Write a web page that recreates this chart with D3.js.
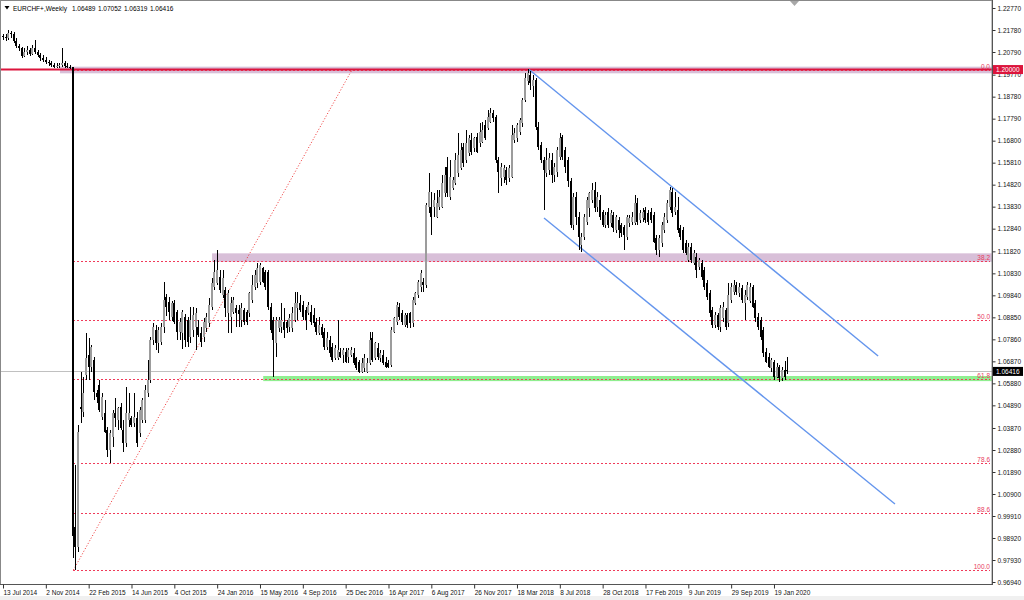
<!DOCTYPE html>
<html><head><meta charset="utf-8">
<script src="https://cdn.jsdelivr.net/npm/d3@7"></script>
<style>
body{margin:0;background:#fff}
svg{display:block}
text{font-family:"Liberation Sans",Arial,sans-serif}
</style>
</head><body>
<svg id="chart" width="1024" height="600"></svg>
<script>
// ---------------- DATA ----------------
const symbolTitle = "EURCHF+,Weekly";
const headerValues = ["1.06489", "1.07052", "1.06319", "1.06416"];
const firstBarDate = "13 Jul 2014";
const xTickLabels = ["13 Jul 2014","2 Nov 2014","22 Feb 2015","14 Jun 2015","4 Oct 2015","24 Jan 2016",
  "15 May 2016","4 Sep 2016","25 Dec 2016","16 Apr 2017","6 Aug 2017","26 Nov 2017","18 Mar 2018",
  "8 Jul 2018","28 Oct 2018","17 Feb 2019","9 Jun 2019","29 Sep 2019","19 Jan 2020"];
const xTickEveryBars = 16;
const yTickValues = [1.22770,1.21780,1.20790,1.19770,1.18780,1.17790,1.16800,1.15810,1.14820,1.13830,
  1.12840,1.11820,1.10830,1.09840,1.08850,1.07860,1.06870,1.05880,1.04890,1.03870,1.02880,1.01890,
  1.00900,0.99910,0.98920,0.97930,0.96940];

const opens = [
1.2150,1.2148,1.2140,1.2165,1.2158,1.2130,1.2105,1.2095,1.2060,1.2080,
1.2088,1.2070,1.2095,1.2080,1.2065,1.2052,1.2045,1.2035,1.2028,1.2020,
1.2012,1.2018,1.2022,1.2030,1.2015,1.2012,1.2010,0.9943,0.9853,1.0483,
1.0461,1.0626,1.0715,1.0663,1.0693,1.0543,1.0581,1.0438,1.0453,1.0378,
1.0288,1.0348,1.0453,1.0423,1.0483,1.0378,1.0318,1.0423,1.0430,1.0408,
1.0430,1.0363,1.0423,1.0423,1.0543,1.0603,1.0783,1.0828,1.0768,1.0775,
1.0843,1.0978,1.0955,1.0888,1.0948,1.0910,1.0820,1.0813,1.0888,1.0873,
1.0798,1.0828,1.0843,1.0843,1.0813,1.0798,1.0836,1.0858,1.0933,1.1023,
1.1038,1.1068,1.0985,1.1008,1.0903,1.0888,1.0910,1.0925,1.0920,1.0873,
1.0918,1.0910,1.0903,1.0963,1.1023,1.1038,1.1045,1.1105,1.1090,1.1090,
1.0933,1.0873,1.0768,1.0836,1.0843,1.0866,1.0866,1.0843,1.0836,1.0873,
1.0925,1.0948,1.0940,1.0918,1.0903,1.0910,1.0895,1.0866,1.0813,1.0843,
1.0820,1.0753,1.0783,1.0753,1.0700,1.0700,1.0730,1.0715,1.0730,1.0708,
1.0715,1.0723,1.0700,1.0685,1.0640,1.0655,1.0641,1.0678,1.0790,1.0700,
1.0745,1.0700,1.0715,1.0685,1.0678,1.0670,1.0820,1.0866,1.0933,1.0903,
1.0851,1.0896,1.0903,1.0858,1.0948,1.0985,1.1023,1.1045,1.1030,1.1383,
1.1383,1.1383,1.1338,1.1383,1.1383,1.1443,1.1563,1.1428,1.1466,1.1488,
1.1533,1.1555,1.1653,1.1593,1.1623,1.1683,1.1645,1.1698,1.1668,1.1675,
1.1750,1.1735,1.1765,1.1803,1.1788,1.1593,1.1511,1.1518,1.1548,1.1511,
1.1518,1.1683,1.1690,1.1720,1.1758,1.1863,1.1950,1.1975,1.1925,1.1953,
1.1743,1.1660,1.1593,1.1533,1.1548,1.1593,1.1525,1.1540,1.1608,1.1698,
1.1638,1.1593,1.1500,1.1300,1.1428,1.1338,1.1210,1.1248,1.1316,1.1376,
1.1413,1.1458,1.1383,1.1413,1.1360,1.1300,1.1360,1.1308,1.1345,1.1278,
1.1323,1.1300,1.1293,1.1248,1.1308,1.1316,1.1308,1.1398,1.1323,1.1330,
1.1368,1.1353,1.1360,1.1345,1.1240,1.1188,1.1218,1.1278,1.1323,1.1383,
1.1450,1.1360,1.1368,1.1285,1.1278,1.1218,1.1143,1.1203,1.1128,1.1158,
1.1113,1.1128,1.1098,1.1038,1.0993,1.0918,1.0851,1.0895,1.0843,1.0880,
1.0918,1.0858,1.0963,1.1000,1.1030,1.0993,1.1015,1.0948,1.0978,1.0960,
1.1023,1.0948,1.0888,1.0873,1.0828,1.0730,1.0708,1.0655,1.0685,1.0618,
1.0660,1.0610,1.0648,1.06489];

const highs = [
1.2162,1.2158,1.2178,1.2175,1.2170,1.2140,1.2115,1.2100,1.2095,1.2105,
1.2095,1.2110,1.2133,1.2090,1.2075,1.2065,1.2055,1.2045,1.2040,1.2030,
1.2028,1.2030,1.2097,1.2040,1.2028,1.2020,1.2013,1.0220,1.0400,1.0640,
1.0618,1.0813,1.0790,1.0760,1.0708,1.0560,1.0603,1.0543,1.0513,1.0393,
1.0380,1.0468,1.0520,1.0483,1.0498,1.0423,1.0573,1.0543,1.0440,1.0543,
1.0460,1.0483,1.0520,1.0580,1.0693,1.0798,1.0860,1.0850,1.0843,1.0860,
1.1045,1.0990,1.0978,1.0960,1.0965,1.0918,1.0880,1.0918,1.0900,1.0888,
1.0933,1.0933,1.0925,1.0873,1.0843,1.0880,1.0903,1.0970,1.1060,1.1143,
1.1188,1.1098,1.1098,1.1023,1.1008,1.0978,1.0975,1.0940,1.0940,1.0948,
1.0925,1.0920,1.1000,1.1075,1.1098,1.1128,1.1128,1.1113,1.1098,1.1098,
1.0948,1.0888,1.0888,1.0888,1.0948,1.0925,1.0873,1.0900,1.0933,1.1000,
1.1000,1.0985,1.0960,1.0933,1.0955,1.0940,1.0925,1.0880,1.0888,1.0855,
1.0835,1.0820,1.0800,1.0768,1.0760,1.0873,1.0745,1.0745,1.0745,1.0745,
1.0753,1.0745,1.0708,1.0693,1.0700,1.0720,1.0700,1.0820,1.0820,1.0776,
1.0768,1.0738,1.0738,1.0708,1.0693,1.0843,1.0888,1.0955,1.0948,1.0918,
1.0903,1.0903,1.0910,1.0975,1.1000,1.1053,1.1098,1.1060,1.1398,1.1533,
1.1450,1.1443,1.1458,1.1458,1.1525,1.1560,1.1608,1.1593,1.1518,1.1623,
1.1713,1.1668,1.1668,1.1728,1.1705,1.1713,1.1698,1.1713,1.1758,1.1765,
1.1773,1.1818,1.1826,1.1818,1.1795,1.1608,1.1578,1.1570,1.1563,1.1570,
1.1750,1.1735,1.1758,1.1780,1.1870,1.1983,1.2003,1.1995,1.1975,1.1960,
1.1765,1.1675,1.1608,1.1645,1.1623,1.1623,1.1578,1.1653,1.1713,1.1705,
1.1653,1.1608,1.1510,1.1443,1.1450,1.1358,1.1263,1.1350,1.1428,1.1450,
1.1488,1.1495,1.1450,1.1435,1.1370,1.1360,1.1376,1.1368,1.1360,1.1345,
1.1338,1.1308,1.1300,1.1345,1.1345,1.1360,1.1435,1.1420,1.1368,1.1376,
1.1383,1.1368,1.1376,1.1360,1.1255,1.1255,1.1316,1.1353,1.1413,1.1473,
1.1465,1.1450,1.1428,1.1300,1.1293,1.1233,1.1218,1.1218,1.1188,1.1173,
1.1150,1.1143,1.1113,1.1053,1.1008,1.0933,1.0910,1.0903,1.0940,1.0955,
1.0925,1.1038,1.1038,1.1053,1.1045,1.1038,1.1030,1.1008,1.1045,1.1038,
1.1030,1.0963,1.0903,1.0888,1.0843,1.0745,1.0723,1.0700,1.0693,1.0678,
1.0670,1.0660,1.0690,1.07052];

const lows = [
1.2135,1.2128,1.2135,1.2140,1.2120,1.2095,1.2085,1.2052,1.2055,1.2065,
1.2060,1.2065,1.2070,1.2055,1.2040,1.2035,1.2025,1.2018,1.2010,1.2008,
1.2005,1.2008,1.2010,1.2008,1.2005,1.2003,0.9800,0.9748,0.9830,1.0408,
1.0438,1.0603,1.0603,1.0640,1.0513,1.0500,1.0460,1.0423,1.0363,1.0258,
1.0228,1.0303,1.0393,1.0378,1.0378,1.0281,1.0303,1.0393,1.0390,1.0393,
1.0303,1.0348,1.0408,1.0408,1.0528,1.0588,1.0760,1.0738,1.0723,1.0760,
1.0813,1.0890,1.0873,1.0870,1.0855,1.0783,1.0783,1.0743,1.0753,1.0753,
1.0768,1.0798,1.0738,1.0798,1.0753,1.0776,1.0820,1.0843,1.0918,1.1010,
1.1030,1.0995,1.0970,1.0888,1.0813,1.0813,1.0900,1.0843,1.0843,1.0843,
1.0851,1.0850,1.0888,1.0948,1.1008,1.1015,1.1030,1.1038,1.1008,1.0918,
1.0813,1.0618,1.0708,1.0820,1.0813,1.0790,1.0813,1.0820,1.0820,1.0866,
1.0873,1.0910,1.0873,1.0828,1.0895,1.0851,1.0843,1.0806,1.0806,1.0790,
1.0738,1.0738,1.0708,1.0685,1.0693,1.0693,1.0700,1.0678,1.0678,1.0678,
1.0708,1.0670,1.0648,1.0633,1.0633,1.0640,1.0633,1.0670,1.0685,1.0693,
1.0693,1.0685,1.0670,1.0655,1.0655,1.0663,1.0813,1.0851,1.0873,1.0851,
1.0843,1.0836,1.0836,1.0843,1.0940,1.0970,1.1000,1.1000,1.1015,1.1353,
1.1256,1.1338,1.1330,1.1368,1.1376,1.1428,1.1428,1.1413,1.1458,1.1480,
1.1518,1.1548,1.1563,1.1578,1.1610,1.1615,1.1630,1.1623,1.1653,1.1668,
1.1683,1.1728,1.1758,1.1765,1.1578,1.1443,1.1478,1.1488,1.1480,1.1496,
1.1510,1.1668,1.1675,1.1705,1.1743,1.1855,1.1930,1.1910,1.1878,1.1728,
1.1638,1.1578,1.1368,1.1518,1.1525,1.1488,1.1495,1.1518,1.1593,1.1593,
1.1533,1.1473,1.1285,1.1280,1.1300,1.1188,1.1180,1.1233,1.1300,1.1338,
1.1398,1.1360,1.1360,1.1323,1.1290,1.1285,1.1285,1.1293,1.1270,1.1263,
1.1240,1.1248,1.1188,1.1233,1.1293,1.1300,1.1300,1.1300,1.1308,1.1316,
1.1308,1.1300,1.1308,1.1218,1.1165,1.1158,1.1203,1.1263,1.1308,1.1368,
1.1338,1.1345,1.1263,1.1233,1.1173,1.1165,1.1135,1.1128,1.1120,1.1060,
1.1098,1.1053,1.1008,1.0963,1.0888,1.0836,1.0836,1.0828,1.0820,1.0866,
1.0828,1.0843,1.0948,1.0985,1.0985,1.0978,1.0948,1.0873,1.0963,1.0948,
1.0925,1.0866,1.0828,1.0783,1.0708,1.0678,1.0655,1.0640,1.0603,1.0610,
1.0596,1.0598,1.0605,1.06319];

const closes = [
1.2148,1.2140,1.2165,1.2158,1.2130,1.2105,1.2095,1.2060,1.2080,1.2088,
1.2070,1.2095,1.2080,1.2065,1.2052,1.2045,1.2035,1.2028,1.2020,1.2012,
1.2018,1.2022,1.2030,1.2015,1.2012,1.2010,0.9900,0.9853,1.0370,1.0471,
1.0543,1.0700,1.0663,1.0753,1.0551,1.0528,1.0468,1.0528,1.0370,1.0288,
1.0363,1.0453,1.0430,1.0476,1.0386,1.0318,1.0453,1.0453,1.0400,1.0438,
1.0318,1.0468,1.0513,1.0558,1.0603,1.0783,1.0843,1.0768,1.0828,1.0843,
1.0963,1.0933,1.0910,1.0948,1.0866,1.0820,1.0866,1.0910,1.0783,1.0776,
1.0873,1.0895,1.0903,1.0806,1.0776,1.0866,1.0888,1.0940,1.1038,1.1090,
1.1098,1.1008,1.1060,1.0926,1.0993,1.0948,1.0963,1.0903,1.0900,1.0925,
1.0866,1.0866,1.0993,1.1030,1.1075,1.1105,1.1120,1.1045,1.1023,1.0933,
1.0828,1.0783,1.0873,1.0873,1.0873,1.0828,1.0836,1.0880,1.0903,1.0948,
1.0948,1.0918,1.0888,1.0873,1.0940,1.0866,1.0858,1.0821,1.0850,1.0806,
1.0753,1.0790,1.0723,1.0693,1.0745,1.0738,1.0708,1.0738,1.0685,1.0738,
1.0738,1.0678,1.0655,1.0640,1.0678,1.0700,1.0678,1.0783,1.0693,1.0768,
1.0708,1.0723,1.0678,1.0663,1.0663,1.0828,1.0880,1.0940,1.0888,1.0866,
1.0896,1.0851,1.0858,1.0963,1.0993,1.1045,1.1083,1.1030,1.1390,1.1450,
1.1338,1.1413,1.1398,1.1428,1.1488,1.1525,1.1443,1.1518,1.1503,1.1593,
1.1615,1.1638,1.1578,1.1668,1.1690,1.1630,1.1690,1.1630,1.1720,1.1728,
1.1690,1.1788,1.1803,1.1780,1.1593,1.1541,1.1563,1.1556,1.1503,1.1556,
1.1706,1.1713,1.1750,1.1773,1.1863,1.1960,1.1985,1.1938,1.1953,1.1743,
1.1653,1.1593,1.1548,1.1593,1.1600,1.1525,1.1563,1.1638,1.1690,1.1608,
1.1563,1.1500,1.1300,1.1428,1.1338,1.1248,1.1248,1.1338,1.1413,1.1443,
1.1458,1.1376,1.1428,1.1338,1.1300,1.1345,1.1300,1.1353,1.1285,1.1338,
1.1278,1.1263,1.1255,1.1338,1.1330,1.1338,1.1398,1.1316,1.1353,1.1360,
1.1323,1.1316,1.1323,1.1226,1.1188,1.1240,1.1300,1.1338,1.1398,1.1458,
1.1353,1.1383,1.1278,1.1248,1.1188,1.1173,1.1203,1.1143,1.1173,1.1098,
1.1143,1.1068,1.1023,1.0978,1.0903,1.0851,1.0895,1.0843,1.0925,1.0933,
1.0843,1.0985,1.1023,1.1030,1.1000,1.1023,1.0963,1.0985,1.1030,1.1023,
1.0933,1.0880,1.0843,1.0798,1.0723,1.0686,1.0663,1.0693,1.0618,1.0663,
1.0612,1.0648,1.0615,1.06416];

// annotations (bar index, price)
const currentPrice = 1.06416;
const horizontalLevel = 1.20000;
const fibStart = {bar: 26.3, price: 0.9748};
const fibEnd = {bar: 130.4, price: 1.2000};
const fibRatios = [0, 38.2, 50.0, 61.8, 78.6, 88.6, 100.0];
const zoneTopLevel = {fromBar: 21.3, hi: 1.2013, lo: 1.1983};
const zone382 = {fromBar: 78.1, hi: 1.1173, lo: 1.1135};
const zone618 = {fromBar: 97.2, hi: 1.0621, lo: 1.0598};
const channelUpper = [[196.5, 1.2000], [326.9, 1.0711]];
const channelLower = [[202.1, 1.1332], [333.2, 1.0045]];

// ---------------- DRAWING ----------------
const svg = d3.select("#chart");
const W = 1024, H = 600;
const plotL = 1, plotR = 992, plotT = 1, plotB = 584;
const nBars = closes.length;

const x = d3.scaleLinear().domain([0, nBars - 1]).range([3, 3 + (nBars - 1) * 2.677]);
const y = d3.scaleLinear().domain([0.96850, 1.23040]).range([plotB, plotT + 1]);

svg.append("rect").attr("width", W).attr("height", H).attr("fill", "#fff");
svg.append("rect").attr("x", 0).attr("y", 596).attr("width", W).attr("height", 4).attr("fill", "#f0f0f0");

const plot = svg.append("g");
plot.append("clipPath").attr("id", "clip").append("rect")
  .attr("x", plotL).attr("y", plotT).attr("width", plotR - plotL).attr("height", plotB - plotT);
const g = plot.append("g").attr("clip-path", "url(#clip)");

// zones
[zoneTopLevel, zone382, zone618].forEach((z, k) => {
  g.append("rect")
    .attr("x", x(z.fromBar)).attr("y", y(z.hi))
    .attr("width", plotR - x(z.fromBar)).attr("height", y(z.lo) - y(z.hi))
    .attr("fill", k === 2 ? "#90ee90" : "#d8bfd8");
});

// current price line
g.append("line").attr("x1", plotL).attr("x2", plotR)
  .attr("y1", Math.round(y(currentPrice)) + 0.5).attr("y2", Math.round(y(currentPrice)) + 0.5)
  .attr("stroke", "#c0c0c0").attr("stroke-width", 1);

// fibonacci levels
const fibHi = fibEnd.price, fibLo = fibStart.price;
fibRatios.forEach(r => {
  const v = fibHi - r / 100 * (fibHi - fibLo);
  const yy = Math.round(y(v)) + 0.5;
  g.append("line").attr("x1", x(fibStart.bar)).attr("x2", plotR - 2)
    .attr("y1", yy).attr("y2", yy).attr("shape-rendering", "crispEdges")
    .attr("stroke", "#f03a5a").attr("stroke-width", 1).attr("stroke-dasharray", "2,2");
  g.append("text").attr("x", 990).attr("y", yy - 2)
    .attr("text-anchor", "end").attr("font-size", 6.5).attr("fill", "#e8405e")
    .text(r.toFixed(1));
});
// fib trend line
g.append("line").attr("x1", x(fibStart.bar)).attr("y1", y(fibStart.price))
  .attr("x2", x(fibEnd.bar)).attr("y2", y(fibEnd.price))
  .attr("stroke", "#f03030").attr("stroke-width", 1).attr("stroke-dasharray", "1,2");

// horizontal level 1.2000
g.append("line").attr("x1", plotL).attr("x2", plotR)
  .attr("y1", y(horizontalLevel)).attr("y2", y(horizontalLevel))
  .attr("stroke", "#dc143c").attr("stroke-width", 2);

// channel
[channelUpper, channelLower].forEach(c => {
  g.append("line").attr("x1", x(c[0][0])).attr("y1", y(c[0][1]))
    .attr("x2", x(c[1][0])).attr("y2", y(c[1][1]))
    .attr("stroke", "#6495ed").attr("stroke-width", 1.4);
});

// candles
const candles = g.append("g").attr("shape-rendering", "crispEdges");
d3.range(nBars).forEach(i => {
  const o = opens[i], h = highs[i], l = lows[i], c = closes[i];
  const cx = Math.round(x(i));
  const bull = c >= o;
  candles.append("rect")
    .attr("x", cx).attr("y", Math.round(y(h)))
    .attr("width", 1).attr("height", Math.max(1, Math.round(y(l)) - Math.round(y(h))))
    .attr("fill", "#000");
  const yt = Math.round(y(Math.max(o, c))), yb = Math.round(y(Math.min(o, c)));
  candles.append("rect")
    .attr("x", cx - 1).attr("y", yt)
    .attr("width", 2).attr("height", Math.max(1, yb - yt))
    .attr("fill", bull ? "#9c9c9c" : "#000");
});

// frame
svg.append("rect").attr("x", 0.5).attr("y", 0.5).attr("width", plotR - 0.5).attr("height", plotB)
  .attr("fill", "none").attr("stroke", "#888").attr("stroke-width", 1);
svg.append("line").attr("x1", plotR + 0.5).attr("x2", plotR + 0.5).attr("y1", 0).attr("y2", plotB + 1)
  .attr("stroke", "#555");
svg.append("line").attr("x1", 0).attr("x2", plotR + 1).attr("y1", plotB + 0.5).attr("y2", plotB + 0.5)
  .attr("stroke", "#555");

// y axis
const yAxis = d3.axisRight(y).tickValues(yTickValues).tickSize(3).tickSizeOuter(0)
  .tickPadding(2).tickFormat(d3.format(".5f"));
const ya = svg.append("g").attr("transform", `translate(${plotR + 0.5},0)`).call(yAxis);
ya.select(".domain").remove();
ya.selectAll("line").attr("stroke", "#333");
ya.selectAll("text").attr("font-size", 6.5).attr("fill", "#111")
  .attr("font-family", '"Liberation Sans",Arial,sans-serif');

// x axis
const xTickBars = xTickLabels.map((_, k) => k * xTickEveryBars);
const xAxis = d3.axisBottom(x).tickValues(xTickBars).tickSize(4).tickSizeOuter(0)
  .tickPadding(2).tickFormat((d, k) => xTickLabels[k]);
const xa = svg.append("g").attr("transform", `translate(0,${plotB + 0.5})`).call(xAxis);
xa.select(".domain").remove();
xa.selectAll("line").attr("stroke", "#333");
xa.selectAll("text").attr("font-size", 6.5).attr("fill", "#111").attr("text-anchor", "start")
  .attr("x", 0).attr("font-family", '"Liberation Sans",Arial,sans-serif');

// price tags
function tag(v, bg) {
  const yy = y(v);
  svg.append("rect").attr("x", plotR + 1).attr("y", yy - 4.5).attr("width", 30).attr("height", 9).attr("fill", bg);
  svg.append("text").attr("x", plotR + 4).attr("y", yy + 2.3).attr("font-size", 6.5).attr("fill", "#fff")
    .text(d3.format(".5f")(v));
}
tag(horizontalLevel, "#dc143c");
tag(currentPrice, "#000");

// header
svg.append("path").attr("d", "M4.5,6 L9.5,6 L7,9.5 Z").attr("fill", "#000");
const hdr = svg.append("text").attr("x", 13).attr("y", 10.5).attr("font-size", 6.5).attr("fill", "#000");
hdr.append("tspan").text(symbolTitle);
headerValues.forEach((v, k) => hdr.append("tspan").attr("dx", k === 0 ? 5 : 2.5).text(v));

// chart shift marker
svg.append("path").attr("d", "M790,1 L799,1 L794.5,6 Z").attr("fill", "#a8a8a8");
</script>
</body></html>
